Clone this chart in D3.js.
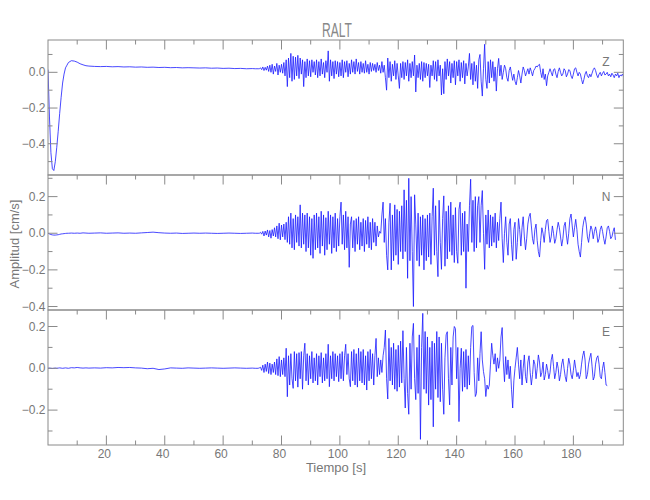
<!DOCTYPE html>
<html><head><meta charset="utf-8">
<script src="https://cdn.jsdelivr.net/npm/d3@7"></script>
<style>body{margin:0;background:#fff}</style>
</head><body><svg id="c" width="650" height="500"></svg>
<script>
const chartTitle = "RALT";
const xLabel = "Tiempo [s]";
const yLabel = "Amplitud [cm/s]";
const channelNames = ["Z", "N", "E"];
const xTickValues = [20, 40, 60, 80, 100, 120, 140, 160, 180];
const xDomain = [0, 197.1];

const zDomain = [-0.575, 0.181];
const nDomain = [-0.419, 0.318];
const eDomain = [-0.367, 0.279];

const quietTimes = [0,0.5,1,1.5,2,2.5,3,3.5,4,4.5,5,5.5,6,6.5,7,8,9,10,11,12,13,14,16,18,20,22,24,26,28,30,32,34,36,38,40,42,44,46,48,50,52,54,56,58,60,62,64,66,68,70,71];
const zQuiet = [0.015,-0.25,-0.45,-0.54,-0.55,-0.5,-0.42,-0.33,-0.23,-0.14,-0.06,-0.01,0.025,0.04,0.055,
 0.065,0.063,0.057,0.048,0.042,0.037,0.035,
 0.033,0.032,0.033,0.031,0.032,0.03,0.031,0.029,0.03,0.028,0.029,0.027,0.028,0.026,0.027,0.025,0.026,0.025,0.024,0.025,0.023,0.024,0.022,0.023,0.021,0.022,0.02,0.021,0.02];
const nQuiet = [0.0,-0.004,-0.007,-0.009,-0.01,-0.01,-0.009,-0.008,-0.006,-0.004,-0.003,-0.002,-0.001,0.0,0.0,
 0.001,0.0,0.001,0.0,0.002,0.001,0.0,
 0.001,0.002,0.0,0.001,0.002,0.0,0.001,0.0,0.002,0.004,0.006,0.003,0.001,0.0,0.001,-0.001,0.0,0.001,0.0,0.001,0.0,-0.001,0.0,0.001,0.0,-0.001,0.0,0.001,0.0];
const eQuiet = [0.0,0.001,0.0,-0.001,0.0,0.001,0.0,0.001,0.002,0.001,0.0,0.001,0.002,0.001,0.0,
 0.003,0.002,0.004,0.002,0.001,0.002,0.001,
 0.002,0.001,0.003,0.002,0.004,0.003,0.004,0.002,0.001,-0.002,0.0,-0.006,-0.003,0.002,0.001,0.0,0.002,0.001,0.0,0.001,0.002,0.001,0.0,0.001,0.002,0.001,0.0,0.001,0.0];

const activeStart = 72;
const activeStep = 0.4;

const zActive = [
 0.02,0.02,0.025,0.015,0.03,0.01,0.028,0.012,0.035,0.005,
 0.04,0.0,0.045,-0.01,0.035,0.005,0.05,-0.015,0.04,0.0,
 0.045,-0.005,0.055,-0.02,0.07,-0.08,0.08,-0.03,0.106,-0.05,
 0.09,-0.04,0.085,-0.02,0.095,-0.035,0.08,-0.01,0.07,-0.08,
 0.06,-0.03,0.075,-0.02,0.065,-0.025,0.07,0.0,0.06,-0.015,
 0.07,-0.03,0.06,-0.02,0.075,-0.01,0.055,-0.03,0.065,0.0,
 0.12,-0.05,0.07,-0.02,0.06,-0.035,0.065,-0.01,0.06,-0.025,
 0.055,-0.02,0.07,-0.03,0.06,0.0,0.065,-0.025,0.05,-0.01,
 0.07,0.0,0.06,-0.01,0.075,0.005,0.055,-0.01,0.06,0.0,
 0.05,-0.005,0.065,0.0,0.045,-0.01,0.055,0.005,0.05,0.01,
 0.045,0.0,0.055,0.01,0.04,-0.005,0.06,0.0,0.04,-0.03,
 -0.1,0.08,-0.03,0.06,-0.05,0.045,-0.02,0.065,-0.04,0.05,
 -0.02,-0.09,0.05,-0.03,0.06,-0.04,0.055,-0.02,0.07,-0.05,
 0.05,-0.03,0.06,-0.02,0.097,-0.11,0.04,-0.03,0.05,-0.04,
 0.06,-0.05,0.055,-0.03,0.05,-0.02,0.045,-0.085,0.04,-0.02,
 0.065,-0.04,0.06,-0.05,0.07,-0.02,0.04,-0.127,0.02,-0.12,
 0.06,-0.04,0.075,-0.02,0.06,-0.06,0.05,-0.03,0.065,-0.07,
 0.06,-0.02,0.07,-0.05,0.055,-0.03,0.065,-0.065,0.05,-0.02,
 0.03,0.106,-0.04,0.05,-0.07,0.06,-0.05,0.04,-0.09,0.07,
 0.1,-0.05,-0.133,0.02,0.157,-0.04,-0.09,0.06,-0.06,0.07,
 -0.03,0.06,-0.05,0.03,-0.105,0.02,0.078,-0.02,0.04,-0.04,
 0.0,0.04,0.02,-0.03,-0.05,0.01,0.03,-0.01,-0.045,-0.01,
 -0.05,-0.07,-0.03,0.01,-0.02,-0.06,-0.01,0.03,0.01,-0.02,
 0.0,0.02,-0.01,0.025,0.005,-0.02,0.01,0.02,0.035,0.03,
 0.04,0.045,0.0,-0.03,0.02,-0.04,-0.01,-0.075,-0.02,0.0,
 0.02,0.0,-0.02,0.015,0.02,-0.01,-0.03,0.005,0.025,0.0,
 -0.02,-0.01,0.02,0.01,-0.025,-0.01,0.015,0.01,-0.02,-0.035,
 -0.01,0.02,0.025,0.0,-0.02,0.0,-0.01,-0.04,-0.065,-0.04,
 -0.01,0.005,-0.02,-0.03,-0.01,-0.025,-0.005,0.015,0.025,0.01,
 -0.015,-0.03,-0.01,0.0,-0.02,-0.005,0.005,-0.015,-0.01,0.0,
 -0.02,-0.01,-0.025,-0.005,-0.015,-0.03,-0.01,-0.02,-0.005,-0.03,
 -0.015,-0.02,-0.01,-0.025
];

const nActive = [
 0.0,0.0,0.005,-0.005,0.01,-0.015,0.012,-0.01,0.018,-0.02,
 0.015,-0.027,0.02,-0.015,0.03,-0.02,0.04,-0.03,0.055,-0.036,
 0.045,-0.02,0.05,-0.035,0.06,-0.05,0.09,-0.06,0.11,-0.08,
 0.08,-0.09,0.1,-0.05,0.09,-0.07,0.155,-0.08,0.11,-0.06,
 0.1,-0.1,0.11,-0.08,0.09,-0.12,0.08,-0.137,0.1,-0.09,
 0.11,-0.08,0.09,-0.11,0.12,-0.07,0.1,-0.12,0.085,-0.09,
 0.12,-0.06,0.1,-0.11,0.09,-0.08,0.11,-0.1,0.08,-0.07,
 0.09,0.17,-0.06,0.1,-0.09,0.12,-0.08,0.09,-0.186,0.05,
 0.09,-0.08,0.07,-0.1,0.08,-0.06,0.09,-0.09,0.06,-0.07,
 0.08,-0.1,0.07,-0.06,0.09,-0.08,0.06,-0.09,0.08,-0.05,
 0.06,-0.07,0.04,-0.02,0.01,0.0,0.1,0.17,-0.05,0.08,
 -0.12,-0.2,0.06,0.164,-0.2,0.1,-0.15,0.155,-0.12,0.13,
 -0.17,0.12,-0.1,0.15,-0.14,0.237,-0.1,0.18,-0.246,0.30,
 -0.15,0.2,-0.1,-0.40,0.21,0.05,-0.15,0.11,-0.18,0.09,
 -0.12,0.1,-0.2,0.08,-0.15,0.1,-0.13,0.11,-0.17,0.09,
 0.246,-0.12,0.15,-0.1,-0.237,0.18,-0.05,-0.197,0.08,0.204,
 -0.18,0.12,-0.14,0.15,-0.1,0.17,-0.12,0.1,-0.16,0.14,
 -0.1,-0.164,0.13,0.17,-0.12,0.11,-0.1,0.12,-0.30,0.05,
 -0.1,0.15,0.295,-0.05,0.18,-0.1,0.2,-0.08,0.15,0.2,
 -0.05,0.15,0.233,0.0,-0.197,0.1,-0.06,0.127,-0.08,0.1,
 -0.07,0.09,-0.05,0.11,-0.08,0.06,-0.04,0.08,0.17,-0.03,
 -0.16,0.0,0.09,-0.05,-0.12,0.05,0.08,-0.06,-0.15,0.02,
 0.06,-0.142,-0.05,0.08,0.02,-0.07,0.03,0.09,-0.02,-0.09,
 -0.03,0.05,0.09,0.109,0.04,-0.03,-0.06,0.02,0.05,-0.04,
 -0.1,-0.13,-0.04,0.03,0.0,-0.05,0.02,0.07,0.076,0.01,
 -0.05,-0.02,0.04,0.0,-0.055,-0.03,0.02,0.06,0.03,-0.02,
 -0.07,-0.03,0.04,0.06,-0.01,-0.06,0.0,0.08,0.105,0.04,
 -0.02,0.03,0.076,0.02,-0.06,-0.1,-0.13,-0.05,0.03,0.07,
 0.09,0.05,-0.02,-0.05,0.0,0.04,0.02,-0.03,0.01,0.035,
 0.0,-0.05,-0.03,0.02,0.04,0.01,-0.03,-0.06,-0.02,0.03,
 0.04,0.01,-0.03,-0.02,0.01,0.03,-0.036
];

const eActive = [
 0.0,0.002,0.005,-0.01,0.015,-0.02,0.02,-0.015,0.03,-0.025,
 0.025,-0.03,0.02,-0.02,0.03,-0.03,0.045,-0.035,0.056,-0.04,
 0.04,-0.03,0.05,-0.04,0.096,-0.136,0.06,-0.08,0.07,-0.05,
 -0.096,0.08,-0.06,0.07,-0.09,0.075,-0.05,0.08,-0.1,0.06,
 0.12,-0.06,0.07,-0.08,0.06,-0.05,0.08,-0.07,0.05,-0.06,
 0.07,-0.08,0.06,-0.04,0.075,-0.07,0.05,-0.06,0.07,-0.05,
 0.115,-0.088,0.06,-0.05,0.08,-0.06,0.07,-0.04,0.06,-0.064,
 0.07,-0.05,0.08,-0.06,0.06,0.115,-0.03,0.07,-0.05,-0.088,
 0.08,-0.06,0.09,-0.08,0.07,-0.09,0.096,-0.06,0.08,-0.07,
 0.09,-0.08,0.06,-0.104,0.08,-0.06,0.09,-0.05,0.07,-0.08,
 0.06,0.143,-0.04,0.05,-0.03,0.04,-0.02,0.06,0.1,0.183,
 -0.05,-0.147,0.143,-0.06,0.1,-0.08,0.12,-0.1,0.09,-0.11,
 0.11,-0.09,0.13,-0.07,0.18,-0.05,-0.19,0.1,-0.12,-0.22,
 0.12,-0.1,0.15,0.215,-0.05,-0.15,0.1,-0.12,0.16,-0.34,
 0.1,0.263,-0.1,0.176,-0.12,0.15,-0.176,0.1,-0.15,0.13,
 -0.28,0.12,-0.1,0.176,-0.14,0.15,-0.16,0.12,-0.1,-0.22,
 0.05,0.16,0.175,-0.05,-0.175,0.1,-0.08,0.15,0.2,0.19,
 -0.05,0.1,-0.255,0.0,0.096,-0.11,0.08,-0.09,0.09,-0.1,
 0.06,-0.08,0.1,0.2,0.205,-0.02,-0.135,-0.12,0.05,-0.06,
 0.07,0.175,0.04,-0.016,-0.05,-0.135,-0.08,-0.1,-0.08,0.02,
 0.12,0.06,0.02,0.07,-0.016,0.05,0.0,0.04,0.15,0.195,
 0.03,-0.064,0.056,-0.03,0.04,-0.05,0.01,-0.1,-0.19,-0.06,
 0.0,0.05,0.1,0.02,-0.05,0.04,-0.08,0.0,0.064,-0.04,
 -0.07,0.03,0.06,-0.02,-0.08,-0.03,0.04,0.02,-0.05,0.0,
 0.064,0.03,-0.04,-0.02,0.03,-0.056,-0.03,0.02,-0.01,-0.05,
 -0.02,0.04,0.067,0.01,-0.05,-0.02,0.03,0.0,-0.06,-0.03,
 0.02,0.045,0.0,-0.04,-0.064,0.0,0.048,0.02,-0.03,-0.05,
 -0.01,0.04,0.0,-0.04,-0.02,-0.05,-0.03,0.02,0.06,0.083,
 0.04,-0.05,-0.03,0.02,0.05,0.072,0.01,-0.056,-0.04,0.02,
 0.05,0.06,0.02,-0.04,-0.05,0.0,0.03,-0.02,-0.08,-0.083
];

const panels = [
  {name: channelNames[0], quiet: zQuiet, active: zActive, domain: zDomain},
  {name: channelNames[1], quiet: nQuiet, active: nActive, domain: nDomain},
  {name: channelNames[2], quiet: eQuiet, active: eActive, domain: eDomain}
];

const svg = d3.select("#c");
const L = 48, R = 623.3, T = 40, panelH = 135;
const axisColor = "#8a8a8a", textColor = "#777";
const font = "'Liberation Sans Narrow','Liberation Sans',Arial,sans-serif";

const x = d3.scaleLinear().domain(xDomain).range([L, R]);

svg.append("text").attr("x", 337).attr("y", 37).attr("text-anchor", "middle")
  .attr("font-family", font).attr("font-size", 21).attr("fill", "#888")
  .attr("textLength", 30).attr("lengthAdjust", "spacingAndGlyphs").text(chartTitle);

const xMinor = d3.range(10, 200, 10);

panels.forEach((p, i) => {
  const top = T + i * panelH, bot = top + panelH;
  const y = d3.scaleLinear().domain(p.domain).range([bot, top]);
  const g = svg.append("g");
  const clipId = "clip" + i;
  svg.append("clipPath").attr("id", clipId).append("rect")
    .attr("x", L).attr("y", top).attr("width", R - L).attr("height", panelH);

  const pts = p.quiet.map((v, k) => ({t: quietTimes[k], v}))
    .concat(p.active.map((v, k) => ({t: activeStart + k * activeStep, v})));
  const line = d3.line().x(d => x(d.t)).y(d => y(d.v));
  g.append("path").datum(pts).attr("clip-path", `url(#${clipId})`)
    .attr("d", line).attr("fill", "none").attr("stroke", "#1a1aff").attr("stroke-width", 0.8);

  // frame
  g.append("rect").attr("x", L).attr("y", top).attr("width", R - L).attr("height", panelH)
    .attr("fill", "none").attr("stroke", axisColor).attr("stroke-width", 1);

  // top ticks (inward)
  g.selectAll(".tt").data(xMinor.filter(t => t < xDomain[1])).join("line")
    .attr("x1", d => x(d)).attr("x2", d => x(d))
    .attr("y1", top).attr("y2", d => top + (d % 20 === 0 ? 9.5 : 4.5))
    .attr("stroke", axisColor);

  if (i === 2) {
    g.selectAll(".bt").data(xMinor.filter(t => t < xDomain[1])).join("line")
      .attr("x1", d => x(d)).attr("x2", d => x(d))
      .attr("y1", bot).attr("y2", d => bot - (d % 20 === 0 ? 9.5 : 4.5))
      .attr("stroke", axisColor);
    g.selectAll(".xl").data(xTickValues).join("text")
      .attr("x", d => x(d) - 2).attr("y", bot + 13).attr("text-anchor", "middle")
      .attr("font-family", font).attr("font-size", 12).attr("fill", textColor)
      .text(d => d);
  }

  // y ticks
  const yt = d3.range(-6, 4).map(k => k / 10).filter(v => v >= p.domain[0] && v <= p.domain[1]);
  const isMajor = v => Math.abs(Math.round(v * 10)) % 2 === 0;
  g.selectAll(".yl").data(yt).join("line")
    .attr("x1", L).attr("x2", d => L + (isMajor(d) ? 9.5 : 4.5))
    .attr("y1", d => y(d)).attr("y2", d => y(d)).attr("stroke", axisColor);
  g.selectAll(".yr").data(yt).join("line")
    .attr("x1", R).attr("x2", d => R - (isMajor(d) ? 9.5 : 4.5))
    .attr("y1", d => y(d)).attr("y2", d => y(d)).attr("stroke", axisColor);
  g.selectAll(".ylab").data(yt.filter(isMajor)).join("text")
    .attr("x", L - 2.5).attr("y", d => y(d) + 4).attr("text-anchor", "end")
    .attr("font-family", font).attr("font-size", 12).attr("fill", textColor)
    .text(d => d3.format(".1f")(d).replace("-", "\u2212"));

  g.append("text").attr("x", 606).attr("y", top + 26).attr("text-anchor", "middle")
    .attr("font-family", font).attr("font-size", 12).attr("fill", textColor).text(p.name);
});

svg.append("text").attr("x", 336).attr("y", 472).attr("text-anchor", "middle")
  .attr("font-family", font).attr("font-size", 13).attr("fill", textColor).text(xLabel);
svg.append("text").attr("transform", "translate(19,244) rotate(-90)").attr("text-anchor", "middle")
  .attr("font-family", font).attr("font-size", 13).attr("fill", textColor).text(yLabel);
</script></body></html>
